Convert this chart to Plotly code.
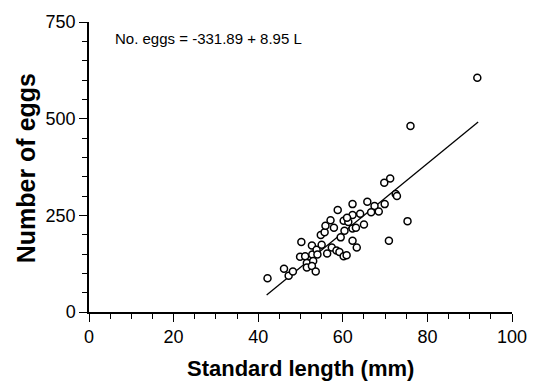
import plotly.graph_objects as go

standard_length = [42.2, 46.1, 47.2, 48.2, 50.2, 49.9, 51.1, 51.5, 51.5, 52.7,
                   52.8, 53.0, 52.7, 53.6, 53.8, 54.0, 54.8, 55.0, 55.7, 55.9,
                   56.3, 57.4, 57.9, 58.5, 59.2, 59.5, 60.2, 60.9, 60.4, 62.3,
                   62.3, 63.3, 63.1, 65.0, 70.9, 57.1, 71.2, 69.8, 69.9, 65.8,
                   67.5, 66.7, 68.5, 62.3, 64.1, 58.8, 62.3, 60.2, 61.3, 61.0,
                   91.8, 76.0, 72.5, 72.8, 75.3]
number_of_eggs = [87, 112, 94, 105, 181, 143, 144, 127, 115, 172,
                  149, 132, 119, 105, 161, 149, 199, 174, 206, 223,
                  151, 167, 218, 159, 155, 193, 144, 147, 210, 184,
                  216, 167, 218, 226, 184, 237, 345, 334, 279, 285,
                  274, 258, 260, 279, 254, 264, 251, 236, 233, 244,
                  606, 481, 305, 300, 235]

intercept = -331.89
slope = 8.95
fit_x = [42, 92]
fit_y = [intercept + slope * v for v in fit_x]

x_ticks = [0, 20, 40, 60, 80, 100]
y_ticks = [0, 250, 500, 750]

fig = go.Figure()
fig.add_trace(go.Scatter(x=fit_x, y=fit_y, mode="lines",
                         line=dict(color="black", width=1.3), showlegend=False))
fig.add_trace(go.Scatter(x=standard_length, y=number_of_eggs, mode="markers",
                         marker=dict(symbol="circle", size=7, color="white",
                                     line=dict(color="black", width=1.5)),
                         showlegend=False))

font_family = "Liberation Sans, Arial, sans-serif"
axis_common = dict(showgrid=False, zeroline=False, showline=True, linecolor="black",
                   linewidth=1.5, ticks="outside", tickcolor="black", ticklen=8,
                   tickwidth=1.3, tickfont=dict(family=font_family, size=18, color="black"))

fig.update_layout(
    width=539, height=385,
    margin=dict(l=89, r=18, t=16, b=73),
    plot_bgcolor="white", paper_bgcolor="white",
    xaxis=dict(range=[0, 100], tickvals=x_ticks,
               minor=dict(dtick=5, ticklen=5, tickcolor="black", ticks="outside", tickwidth=1.2),
               **axis_common),
    yaxis=dict(range=[0, 750], tickvals=y_ticks,
               minor=dict(dtick=50, ticklen=5, tickcolor="black", ticks="outside", tickwidth=1.2),
               **axis_common),
    annotations=[
        dict(text="No. eggs = -331.89 + 8.95 L", xref="paper", yref="paper",
             x=(113 - 89) / 432, y=(312 - 33) / 296, xanchor="left", yanchor="middle",
             showarrow=False, font=dict(family=font_family, size=15, color="black")),
        dict(text="<b>Standard length (mm)</b>", xref="paper", yref="paper",
             x=0.5, y=(312 - 370) / 296, xanchor="center", yanchor="middle",
             showarrow=False, font=dict(family=font_family, size=22, color="black")),
        dict(text="<b>Number of eggs</b>", xref="paper", yref="paper",
             x=(25 - 89) / 432, y=(312 - 165) / 296, xanchor="center", yanchor="middle",
             textangle=-90, showarrow=False,
             font=dict(family=font_family, size=25, color="black")),
    ],
)

fig.write_html("out.html")
